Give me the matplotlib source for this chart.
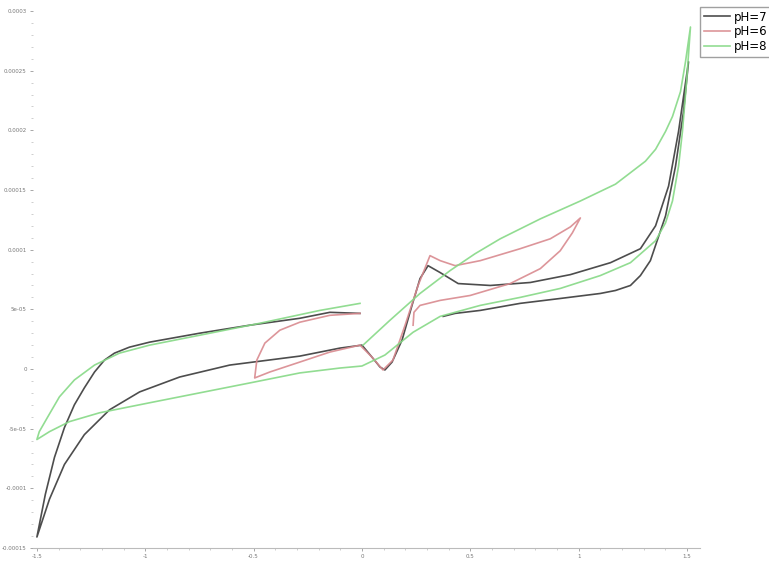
import numpy as np
import matplotlib.pyplot as plt
from matplotlib.ticker import FuncFormatter, AutoMinorLocator, MultipleLocator

# potential (V) and current (uA), one cyclic scan per buffer
e_ph7 = [-0.009, -0.148, -0.287, -0.518, -0.749, -0.980, -1.073, -1.142, -1.188, -1.234, -1.281, -1.327,
         -1.373, -1.419, -1.461, -1.500,
         -1.442, -1.373, -1.281, -1.165, -1.026, -0.841, -0.610, -0.287, -0.102, 0.0,
         0.046, 0.065, 0.083, 0.106, 0.139, 0.185, 0.231, 0.268, 0.305, 0.361, 0.444, 0.592, 0.777, 0.962, 1.147,
         1.285, 1.355, 1.415, 1.461, 1.507,
         1.484, 1.447, 1.401, 1.331, 1.285, 1.239, 1.170, 1.100, 0.915, 0.730, 0.546, 0.430, 0.375]
i_ph7 = [46.6, 47.5, 42.5, 36.7, 30.0, 22.5, 18.3, 13.3, 7.5, -2.5, -15.8, -30.0,
         -49.1, -74.1, -105.0, -140.8,
         -109.1, -80.0, -55.0, -34.2, -19.2, -6.7, 3.3, 10.8, 17.5, 20.0,
         10.0, 5.8, 1.7, -0.8, 5.8, 24.2, 53.3, 75.8, 86.6, 80.8, 71.6, 70.0, 72.5, 79.1, 89.1,
         100.8, 120.0, 153.3, 199.1, 257.4,
         215.7, 169.9, 128.3, 90.8, 78.3, 70.0, 65.8, 63.3, 59.1, 55.0, 49.1, 46.6, 44.1]

e_ph6 = [-0.009, -0.148, -0.287, -0.379, -0.448, -0.485, -0.495,
         -0.425, -0.287, -0.148, -0.009,
         0.046, 0.097, 0.143, 0.199, 0.259, 0.314, 0.361, 0.430, 0.546, 0.730, 0.869, 0.962, 1.008,
         0.971, 0.915, 0.823, 0.684, 0.499, 0.361, 0.268, 0.240, 0.236]
i_ph6 = [46.6, 45.0, 39.2, 32.5, 21.7, 7.5, -7.5,
         -2.5, 5.8, 14.2, 20.0,
         10.0, -0.8, 7.5, 36.7, 70.0, 95.0, 90.8, 86.6, 90.8, 100.8, 109.1, 119.1, 126.6,
         114.1, 99.1, 84.1, 71.6, 61.6, 57.5, 53.3, 47.5, 36.7]

e_ph8 = [-0.009, -0.194, -0.472, -0.749, -0.980, -1.119, -1.234, -1.327, -1.396, -1.452, -1.489, -1.500,
         -1.442, -1.350, -1.211, -0.980, -0.749, -0.518, -0.287, -0.102, 0.0,
         0.106, 0.236, 0.361, 0.546, 0.730, 0.915, 1.100, 1.239, 1.355, 1.401, 1.433, 1.461, 1.479, 1.498, 1.516,
         1.493, 1.470, 1.433, 1.401, 1.355, 1.308, 1.170, 1.008, 0.823, 0.638, 0.522, 0.407, 0.268, 0.129, 0.005]
i_ph8 = [55.0, 49.1, 38.3, 28.3, 20.0, 13.3, 3.3, -9.2, -23.3, -40.8, -52.5, -59.1,
         -52.5, -44.1, -36.7, -28.3, -20.0, -11.7, -3.3, 0.8, 2.5,
         11.7, 30.8, 44.1, 53.3, 60.0, 67.5, 78.3, 89.1, 107.5, 122.5, 140.8, 169.9, 199.1, 240.7, 286.6,
         257.4, 232.4, 211.6, 199.1, 184.1, 174.1, 154.9, 140.8, 125.8, 109.1, 96.6, 82.5, 63.3, 40.8, 20.0]

series = [('pH=7', e_ph7, i_ph7, '#3a3a3a'),
          ('pH=6', e_ph6, i_ph6, '#d98a8f'),
          ('pH=8', e_ph8, i_ph8, '#86d986')]

fig = plt.figure(figsize=(7.69, 5.63), dpi=100)
ax = fig.add_axes([33 / 769, 1 - 548 / 563, 667 / 769, 541 / 563])

for name, e, i, c in series:
    ax.plot(e, i, color=c, lw=1.2, alpha=0.9, label=name, solid_joinstyle='round')

ax.set_xlim(-1.518, 1.56)
ax.set_ylim(-150, 300 + 4 * 50 / 59.6)
ax.xaxis.set_major_locator(MultipleLocator(0.5))
ax.yaxis.set_major_locator(MultipleLocator(50))
ax.xaxis.set_minor_locator(AutoMinorLocator(5))
ax.yaxis.set_minor_locator(AutoMinorLocator(5))
ax.yaxis.set_major_formatter(FuncFormatter(lambda v, p: '%g' % round(v * 1e-6, 6)))
ax.xaxis.set_major_formatter(FuncFormatter(lambda v, p: '%g' % v))

for s in ['top', 'right', 'left']:
    ax.spines[s].set_visible(False)
ax.spines['bottom'].set_color('#bbbbbb')
ax.spines['bottom'].set_linewidth(0.8)
ax.tick_params(axis='both', which='major', labelsize=4, colors='#999999', length=2.5, width=0.6,
               labelcolor='#777777', pad=2)
ax.tick_params(axis='both', which='minor', colors='#bbbbbb', length=1.5, width=0.5)

fig.legend(loc='upper left', bbox_to_anchor=(700 / 769, 1 - 7 / 563), fontsize=8.5,
           frameon=True, fancybox=False, edgecolor='#888888', handlelength=2.2,
           handletextpad=0.4, labelspacing=0.15, borderpad=0.3, borderaxespad=0)

fig.savefig('out.png', dpi=100)
